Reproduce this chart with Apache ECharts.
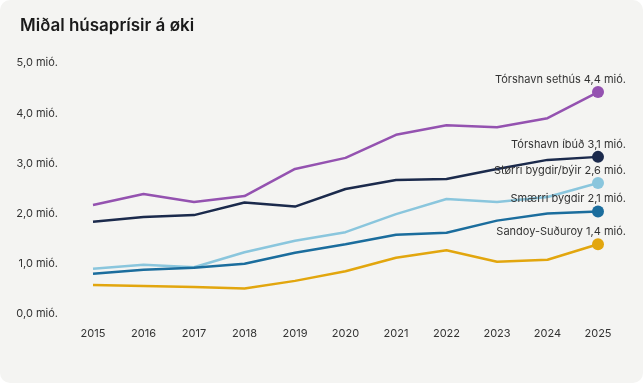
<!DOCTYPE html>
<html>
<head>
<meta charset="utf-8">
<script src="https://cdn.jsdelivr.net/npm/echarts@6/dist/echarts.min.js"></script>
<style>
html,body{margin:0;padding:0;background:#ffffff;}
#card{position:absolute;left:0;top:0;width:643px;height:383px;background:#f4f4f2;border-radius:10px;overflow:hidden;}
#chart{width:643px;height:383px;}
</style>
</head>
<body>
<div id="card"><div id="chart"></div></div>
<script>
const years = ['2015','2016','2017','2018','2019','2020','2021','2022','2023','2024','2025'];
const seriesNames = ['Tórshavn sethús','Tórshavn íbúð','Størri bygdir/býir','Smærri bygdir','Sandoy-Suðuroy'];
const sethus   = [2.17, 2.39, 2.23, 2.35, 2.89, 3.11, 3.57, 3.76, 3.72, 3.90, 4.42];
const ibud     = [1.84, 1.93, 1.97, 2.22, 2.14, 2.49, 2.67, 2.69, 2.89, 3.07, 3.13];
const storri   = [0.90, 0.98, 0.93, 1.23, 1.46, 1.63, 1.99, 2.29, 2.23, 2.33, 2.61];
const smaerri  = [0.80, 0.88, 0.92, 1.00, 1.22, 1.39, 1.58, 1.62, 1.86, 2.00, 2.04];
const sandoy   = [0.58, 0.56, 0.54, 0.51, 0.66, 0.85, 1.12, 1.27, 1.04, 1.08, 1.39];
const endLabels = ['4,4','3,1','2,6','2,1','1,4'];
const colors = ['#9452b0','#1b2a4c','#8ac6dd','#1b6d9d','#e2a60e'];
const allData = [sethus, ibud, storri, smaerri, sandoy];

const font = 'Inter, "Noto Sans", sans-serif';
const chart = echarts.init(document.getElementById('chart'), null, {renderer:'canvas'});

const series = allData.map((d, i) => ({
  name: seriesNames[i],
  type: 'line',
  data: d.map((v, j) => {
    if (j === d.length - 1) {
      return {
        value: v,
        symbol: 'circle',
        symbolSize: 12,
        label: {
          show: true,
          position: 'top',
          align: 'right',
          distance: 1,
          offset: [28, 0],
          formatter: seriesNames[i] + ' ' + endLabels[i] + ' mió.',
          color: '#333333',
          fontFamily: font,
          fontSize: 11
        }
      };
    }
    return { value: v, symbol: 'none' };
  }),
  showSymbol: true,
  symbol: 'none',
  lineStyle: { width: 2.5, color: colors[i] },
  itemStyle: { color: colors[i] },
  emphasis: { disabled: true },
  animation: false
}));

chart.setOption({
  backgroundColor: 'transparent',
  title: {
    text: 'Miðal húsaprísir á øki',
    left: 15,
    top: 12,
    textStyle: { fontFamily: font, fontSize: 17, fontWeight: 600, color: '#1a1a1a' }
  },
  grid: { left: 93, right: 45, top: 63, bottom: 69, containLabel: false },
  xAxis: {
    type: 'category',
    data: years,
    boundaryGap: false,
    axisLine: { show: false },
    axisTick: { show: false },
    axisLabel: { margin: 14, color: '#333333', fontFamily: font, fontSize: 11 }
  },
  yAxis: {
    type: 'value',
    min: 0,
    max: 5,
    interval: 1,
    splitLine: { show: false },
    axisLine: { show: false },
    axisTick: { show: false },
    axisLabel: {
      margin: 35,
      color: '#333333',
      fontFamily: font,
      fontSize: 11,
      formatter: v => v.toFixed(1).replace('.', ',') + ' mió.'
    }
  },
  series: series
});
</script>
</body>
</html>
